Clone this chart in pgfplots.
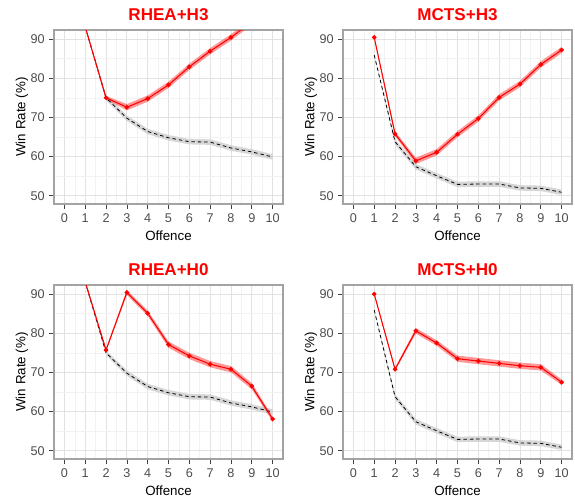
\documentclass[border=0pt]{standalone}
\usepackage{fontspec}
\setmainfont{Liberation Sans}
\usepackage{pgfplots}
\usepackage{pgfplotstable}
\pgfplotsset{compat=1.18}
\definecolor{gridmaj}{HTML}{E2E2E2}
\definecolor{gridmin}{HTML}{F2F2F2}
\definecolor{framec}{HTML}{A3A3A3}
\definecolor{ticklab}{HTML}{4D4D4D}
\definecolor{bandc}{HTML}{D0D0D0}

% x, value, half-width of band, s: +1 going right (upper edge), -1 coming back (lower edge)
\pgfplotstableread{
x y e s
1 93.1 0.2 1
2 75.0 0.6 1
3 69.8 0.7 1
4 66.4 0.7 1
5 64.8 0.7 1
6 63.8 0.7 1
7 63.7 0.7 1
8 62.2 0.7 1
9 61.2 0.7 1
10 59.9 0.7 1
10 59.9 0.7 -1
9 61.2 0.7 -1
8 62.2 0.7 -1
7 63.7 0.7 -1
6 63.8 0.7 -1
5 64.8 0.7 -1
4 66.4 0.7 -1
3 69.8 0.7 -1
2 75.0 0.6 -1
1 93.1 0.2 -1
}\rheabase

\pgfplotstableread{
x y e s
1 85.9 0.2 1
2 63.8 0.7 1
3 57.4 0.7 1
4 55.1 0.7 1
5 52.9 0.7 1
6 53.0 0.7 1
7 53.0 0.7 1
8 52.0 0.7 1
9 51.9 0.7 1
10 50.9 0.7 1
10 50.9 0.7 -1
9 51.9 0.7 -1
8 52.0 0.7 -1
7 53.0 0.7 -1
6 53.0 0.7 -1
5 52.9 0.7 -1
4 55.1 0.7 -1
3 57.4 0.7 -1
2 63.8 0.7 -1
1 85.9 0.2 -1
}\mctsbase

\pgfplotstableread{
x y e s
1 93.1 0.2 1
2 75.0 0.5 1
3 72.6 0.8 1
4 74.8 0.8 1
5 78.3 0.8 1
6 82.9 0.8 1
7 86.9 0.8 1
8 90.4 0.8 1
9 94.4 0.8 1
10 98.0 0.8 1
10 98.0 0.8 -1
9 94.4 0.8 -1
8 90.4 0.8 -1
7 86.9 0.8 -1
6 82.9 0.8 -1
5 78.3 0.8 -1
4 74.8 0.8 -1
3 72.6 0.8 -1
2 75.0 0.5 -1
1 93.1 0.2 -1
}\rheaH

\pgfplotstableread{
x y e s
1 90.4 0.2 1
2 65.8 0.6 1
3 58.9 0.8 1
4 61.1 0.8 1
5 65.7 0.8 1
6 69.7 0.8 1
7 75.1 0.8 1
8 78.5 0.8 1
9 83.5 0.8 1
10 87.2 0.8 1
10 87.2 0.8 -1
9 83.5 0.8 -1
8 78.5 0.8 -1
7 75.1 0.8 -1
6 69.7 0.8 -1
5 65.7 0.8 -1
4 61.1 0.8 -1
3 58.9 0.8 -1
2 65.8 0.6 -1
1 90.4 0.2 -1
}\mctsH

\pgfplotstableread{
x y e s
1 93.1 0.2 1
2 75.7 0.4 1
3 90.4 0.6 1
4 85.1 0.7 1
5 77.1 0.8 1
6 74.2 0.8 1
7 72.1 0.8 1
8 70.8 0.8 1
9 66.5 0.8 1
10 58.1 0.6 1
10 58.1 0.6 -1
9 66.5 0.8 -1
8 70.8 0.8 -1
7 72.1 0.8 -1
6 74.2 0.8 -1
5 77.1 0.8 -1
4 85.1 0.7 -1
3 90.4 0.6 -1
2 75.7 0.4 -1
1 93.1 0.2 -1
}\rheaZ

\pgfplotstableread{
x y e s
1 90.0 0.2 1
2 70.8 0.4 1
3 80.6 0.7 1
4 77.5 0.7 1
5 73.5 0.8 1
6 72.9 0.8 1
7 72.3 0.8 1
8 71.7 0.8 1
9 71.3 0.8 1
10 67.5 0.7 1
10 67.5 0.7 -1
9 71.3 0.8 -1
8 71.7 0.8 -1
7 72.3 0.8 -1
6 72.9 0.8 -1
5 73.5 0.8 -1
4 77.5 0.7 -1
3 80.6 0.7 -1
2 70.8 0.4 -1
1 90.0 0.2 -1
}\mctsZ

\pgfplotsset{panel/.style={
  width=171.75pt, height=130.5pt, scale only axis, anchor=north west,
  xmin=-0.5, xmax=10.5, ymin=47.9, ymax=92.3,
  xtick={0,...,10}, ytick={50,60,...,90},
  minor tick num=1, minor tick length=0pt,
  grid=both,
  major grid style={draw=gridmaj, line width=0.6pt},
  minor grid style={draw=gridmin, line width=0.4pt},
  axis line style={draw=framec, line width=0.8pt},
  tick align=outside, major tick length=3.5pt,
  xtick pos=bottom, ytick pos=left,
  tick style={draw=black!75, line width=0.5pt},
  ticklabel style={font=\fontsize{9.5}{11}\selectfont, text=ticklab},
  /pgf/number format/assume math mode=true,
  xlabel=Offence, ylabel={Win Rate (\%)},
  label style={font=\fontsize{10}{12}\selectfont},
  xlabel style={at={(axis description cs:0.5,-0.2107)}, anchor=base},
  ylabel style={at={(axis description cs:-0.1397,0.5)}, anchor=center},
  every axis title shift=0pt,
  title style={font=\bfseries\fontsize{12.8}{15}\selectfont, text=red,
    at={(axis description cs:0.5,1.0529)}, anchor=base},
  clip=true,
}}

\newcommand\panel[4]{%
\begin{axis}[panel, at={#1}, title={#2}]
\addplot[fill=bandc, fill opacity=0.85, draw=none] table[x=x, y expr=\thisrow{y}+\thisrow{s}*\thisrow{e}] {#3} -- cycle;
\addplot[fill=red, fill opacity=0.4, draw=none] table[x=x, y expr=\thisrow{y}+\thisrow{s}*\thisrow{e}] {#4} -- cycle;
\addplot[black, dash pattern=on 2.6pt off 2.2pt, line width=0.6pt, skip coords between index={10}{20}] table[x=x, y=y] {#3};
\addplot[red, line width=0.8pt, mark=*, mark size=1.3pt, mark options={solid}, skip coords between index={10}{20}] table[x=x, y=y] {#4};
\end{axis}}

\begin{document}
\begin{tikzpicture}
\useasboundingbox (0,0) rectangle (431.25pt,-375pt);
\panel{(40.5pt,-22.5pt)}{RHEA+H3}{\rheabase}{\rheaH}
\panel{(257.25pt,-22.5pt)}{MCTS+H3}{\mctsbase}{\mctsH}
\panel{(40.5pt,-213.75pt)}{RHEA+H0}{\rheabase}{\rheaZ}
\panel{(257.25pt,-213.75pt)}{MCTS+H0}{\mctsbase}{\mctsZ}
\end{tikzpicture}
\end{document}
